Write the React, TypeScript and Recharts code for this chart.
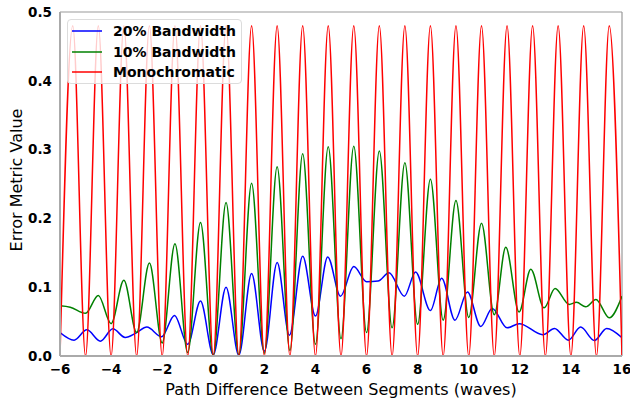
import { LineChart, Line, XAxis, YAxis, Legend, ReferenceLine } from "recharts";

const FONT = "'DejaVu Sans', Verdana, sans-serif";

// [path difference (waves), error metric]
const bandwidth20: [number, number][] = [
  [-6, 0.034], [-5.45, 0.023], [-4.95, 0.038], [-4.42, 0.0215], [-3.93, 0.0395],
  [-3.45, 0.027], [-3.0, 0.034], [-2.6, 0.042], [-2.02, 0.028], [-1.52, 0.059],
  [-1.0, 0.017], [-0.5, 0.08], [0.0, 0.002], [0.5, 0.1], [1.0, 0.001],
  [1.5, 0.12], [2.0, 0.007], [2.5, 0.136], [2.98, 0.03], [3.5, 0.145],
  [4.0, 0.058], [4.48, 0.144], [4.98, 0.087], [5.5, 0.13], [6.0, 0.108],
  [6.45, 0.109], [6.88, 0.121], [7.48, 0.087], [7.92, 0.122], [8.5, 0.066],
  [8.94, 0.113], [9.46, 0.052], [9.95, 0.093], [10.47, 0.043], [10.92, 0.069],
  [11.5, 0.041], [11.98, 0.047], [12.9, 0.031], [13.36, 0.04], [13.9, 0.023],
  [14.38, 0.042], [14.92, 0.0225], [15.4, 0.04], [16.0, 0.0265],
];

const bandwidth10: [number, number][] = [
  [-6, 0.073], [-5.6, 0.071], [-5.0, 0.062], [-4.5, 0.088], [-4.0, 0.047],
  [-3.5, 0.11], [-3.0, 0.034], [-2.5, 0.135], [-2.0, 0.019], [-1.5, 0.163],
  [-1.0, 0.005], [-0.5, 0.194], [0.0, 0.001], [0.5, 0.223], [1.0, 0.002],
  [1.5, 0.251], [2.0, 0.004], [2.5, 0.275], [3.0, 0.008], [3.5, 0.294],
  [4.0, 0.017], [4.5, 0.304], [5.0, 0.025], [5.5, 0.305], [6.0, 0.034],
  [6.5, 0.298], [7.0, 0.041], [7.5, 0.281], [8.0, 0.046], [8.5, 0.257],
  [9.0, 0.052], [9.5, 0.226], [10.0, 0.056], [10.5, 0.193], [11.0, 0.06],
  [11.45, 0.158], [11.97, 0.064], [12.43, 0.126], [12.95, 0.07], [13.38, 0.098],
  [13.93, 0.075], [14.22, 0.078], [14.58, 0.0715], [14.98, 0.082], [15.5, 0.0555],
  [16.0, 0.087],
];

const monochromatic: [number, number][] = [
  [-6, 0], [-5.5, 0.48], [-5, 0], [-4.5, 0.48], [-4, 0], [-3.5, 0.48], [-3, 0],
  [-2.5, 0.48], [-2, 0], [-1.5, 0.48], [-1, 0], [-0.5, 0.48], [0, 0], [0.5, 0.48],
  [1, 0], [1.5, 0.48], [2, 0], [2.5, 0.48], [3, 0], [3.5, 0.48], [4, 0],
  [4.5, 0.48], [5, 0], [5.5, 0.48], [6, 0], [6.5, 0.48], [7, 0], [7.5, 0.48],
  [8, 0], [8.5, 0.48], [9, 0], [9.5, 0.48], [10, 0], [10.5, 0.48], [11, 0],
  [11.5, 0.48], [12, 0], [12.5, 0.48], [13, 0], [13.5, 0.48], [14, 0],
  [14.5, 0.48], [15, 0], [15.5, 0.48], [16, 0],
];

const xTicks = [-6, -4, -2, 0, 2, 4, 6, 8, 10, 12, 14, 16];
const yTicks = [0, 0.1, 0.2, 0.3, 0.4, 0.5];

const toRows = (pts: [number, number][]) => pts.map(([x, y]) => ({ x, y }));

const series = [
  { name: "20% Bandwidth", color: "#0000ff", data: toRows(bandwidth20) },
  { name: "10% Bandwidth", color: "#008000", data: toRows(bandwidth10) },
  { name: "Monochromatic", color: "#ff0000", data: toRows(monochromatic) },
];

const tickStyle = { fontFamily: FONT, fontSize: 13.5, fontWeight: 700, fill: "#000" };

function LegendBox() {
  return (
    <div
      style={{
        boxSizing: "border-box",
        width: 175,
        height: 65,
        border: "1px solid #dcdcdc",
        borderRadius: 4,
        background: "rgba(255,255,255,0.8)",
        paddingLeft: 4,
        paddingTop: 1,
      }}
    >
      {series.map((s) => (
        <div key={s.name} style={{ display: "flex", alignItems: "center", height: 20.5 }}>
          <svg width={30} height={4} style={{ display: "block" }}>
            <line x1={0} y1={2} x2={30} y2={2} stroke={s.color} strokeWidth={1.5} />
          </svg>
          <span
            style={{
              marginLeft: 11,
              fontFamily: FONT,
              fontSize: 14,
              fontWeight: 700,
              color: "#000",
              lineHeight: "16px",
            }}
          >
            {s.name}
          </span>
        </div>
      ))}
    </div>
  );
}

export default function App() {
  return (
    <div style={{ position: "absolute", left: 0, top: 0, width: 630, height: 403, background: "#fff" }}>
      <LineChart width={630} height={403} margin={{ top: 12, right: 8, left: 0, bottom: 0 }}>
        <XAxis
          dataKey="x"
          type="number"
          domain={[-6, 16]}
          ticks={xTicks}
          allowDataOverflow
          tickLine={false}
          axisLine={{ stroke: "#aaaaaa", strokeWidth: 2 }}
          tick={tickStyle}
          tickFormatter={(v: number) => (v < 0 ? `\u2212${Math.abs(v)}` : `${v}`)}
          height={47}
          label={{
            content: ({ viewBox }: any) => (
              <text
                x={viewBox.x + viewBox.width / 2}
                y={395}
                textAnchor="middle"
                style={{ fontFamily: FONT, fontSize: 16 }}
                fill="#000"
              >
                Path Difference Between Segments (waves)
              </text>
            ),
          }}
        />
        <YAxis
          type="number"
          domain={[0, 0.5]}
          ticks={yTicks}
          allowDataOverflow
          tickLine={false}
          axisLine={{ stroke: "#aaaaaa", strokeWidth: 2 }}
          tick={tickStyle}
          tickFormatter={(v: number) => v.toFixed(1)}
          width={60}
          label={{
            content: () => (
              <text
                x={16}
                y={180}
                transform="rotate(-90 16 180)"
                textAnchor="middle"
                dominantBaseline="central"
                style={{ fontFamily: FONT, fontSize: 16 }}
                fill="#000"
              >
                Error Metric Value
              </text>
            ),
          }}
        />
        <ReferenceLine y={0.5} stroke="#999999" strokeWidth={1.2} />
        <ReferenceLine x={16} stroke="#999999" strokeWidth={1.2} />
        {series.map((s) => (
          <Line
            key={s.name}
            data={s.data}
            dataKey="y"
            name={s.name}
            type="monotone"
            stroke={s.color}
            strokeWidth={1.5}
            dot={false}
            activeDot={false}
            isAnimationActive={false}
          />
        ))}
        <Legend
          layout="vertical"
          align="center"
          verticalAlign="middle"
          wrapperStyle={{ top: 19, left: 67, width: 175, height: 65 }}
          content={() => <LegendBox />}
        />
      </LineChart>
    </div>
  );
}
